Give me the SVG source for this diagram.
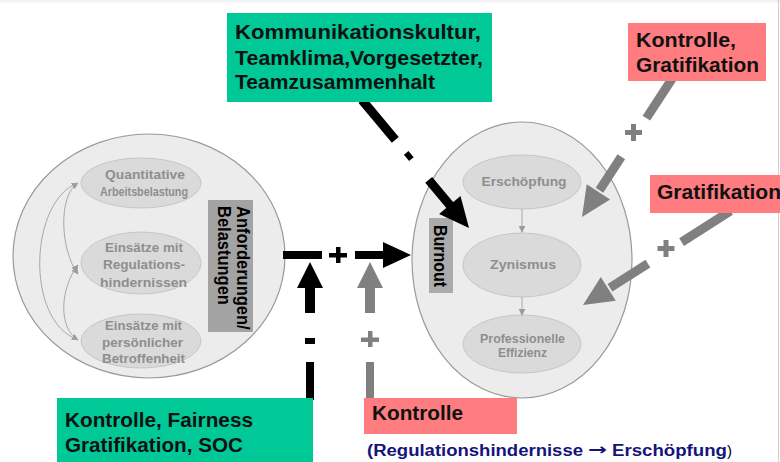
<svg xmlns="http://www.w3.org/2000/svg" width="780" height="462" viewBox="0 0 780 462">
<defs>
<style>
.big{fill:#ececec;stroke:#9a9a9a;stroke-width:1.2}
.in{fill:#dadada;stroke:#c6c6c6;stroke-width:1}
.it{font-family:"Liberation Sans",Arial,sans-serif;font-weight:bold;font-size:12px;fill:#8e8e8e;text-anchor:middle}
.lb{font-family:"Liberation Sans",Arial,sans-serif;font-weight:bold;font-size:19.5px;fill:#111}
.rt{font-family:"Liberation Sans",Arial,sans-serif;font-weight:bold;fill:#000}
.nv{font-family:"Liberation Sans",Arial,sans-serif;font-weight:bold;font-size:16px;fill:#14147a}
.arc{fill:none;stroke:#a8a8a8;stroke-width:1}
.blk{stroke:#000;stroke-width:9;fill:none}
.gry{stroke:#808080;stroke-width:9;fill:none}
.green{fill:#00c896}
.red{fill:#ff7c80}
</style>
<marker id="ah" viewBox="0 0 10 10" refX="9" refY="5" markerWidth="7" markerHeight="7" markerUnits="userSpaceOnUse" orient="auto-start-reverse">
<path d="M0,0 L10,5 L0,10 z" fill="#9a9a9a"/>
</marker>
</defs>
<rect x="0" y="0" width="780" height="462" fill="#fff"/>
<rect x="0" y="0" width="780" height="2.5" fill="#f1f3f3"/>
<line x1="778.5" y1="0" x2="778.5" y2="462" stroke="#d0d0d0" stroke-width="1"/>

<g id="node-demands">
<ellipse class="big" cx="149" cy="256" rx="136" ry="122"/>
<ellipse class="in" cx="141" cy="183" rx="60" ry="25"/>
<ellipse class="in" cx="141" cy="263" rx="60" ry="31"/>
<ellipse class="in" cx="141" cy="341" rx="60" ry="27"/>
<text class="it" x="145" y="179" textLength="80" lengthAdjust="spacingAndGlyphs">Quantitative</text>
<text class="it" x="144" y="195.5" textLength="88" lengthAdjust="spacingAndGlyphs">Arbeitsbelastung</text>
<text class="it" x="144" y="251.5" textLength="78" lengthAdjust="spacingAndGlyphs">Einsätze mit</text>
<text class="it" x="144" y="269" textLength="82" lengthAdjust="spacingAndGlyphs">Regulations-</text>
<text class="it" x="143.5" y="286.5" textLength="87" lengthAdjust="spacingAndGlyphs">hindernissen</text>
<text class="it" x="143.5" y="330" textLength="77" lengthAdjust="spacingAndGlyphs">Einsätze mit</text>
<text class="it" x="142.5" y="346.5" textLength="81" lengthAdjust="spacingAndGlyphs">persönlicher</text>
<text class="it" x="143.5" y="363" textLength="83" lengthAdjust="spacingAndGlyphs">Betroffenheit</text>
<path class="arc" d="M78,183 C58,195 60,250 78,274" marker-start="url(#ah)" marker-end="url(#ah)"/>
<path class="arc" d="M78,265 C60,288 58,328 78,340" marker-start="url(#ah)" marker-end="url(#ah)"/>
<path class="arc" d="M78,183 C30,200 24,320 78,340"/>
<rect x="208" y="200" width="45" height="132" fill="#a3a3a3"/>
<text class="rt" font-size="16.5" transform="translate(236.5,206) scale(1.12,1) rotate(90)">Anforderungen/</text>
<text class="rt" font-size="16.5" transform="translate(218,206) scale(1.12,1) rotate(90)">Belastungen</text>
</g>

<g id="node-burnout">
<ellipse class="big" cx="522" cy="260" rx="110" ry="138"/>
<ellipse class="in" cx="522" cy="182" rx="59" ry="27"/>
<ellipse class="in" cx="522" cy="265" rx="59" ry="32"/>
<ellipse class="in" cx="522" cy="344" rx="59" ry="29"/>
<text class="it" x="524" y="185.5" textLength="85" lengthAdjust="spacingAndGlyphs">Erschöpfung</text>
<text class="it" x="523" y="269" textLength="66" lengthAdjust="spacingAndGlyphs">Zynismus</text>
<text class="it" x="522.5" y="343" textLength="85" lengthAdjust="spacingAndGlyphs">Professionelle</text>
<text class="it" x="522.5" y="357" textLength="49" lengthAdjust="spacingAndGlyphs">Effizienz</text>
<line class="arc" x1="522" y1="209" x2="522" y2="232" marker-end="url(#ah)"/>
<line class="arc" x1="522" y1="297" x2="522" y2="315" marker-end="url(#ah)"/>
<rect x="429" y="218" width="24" height="75" fill="#ababab"/>
<text class="rt" font-size="16" transform="translate(434,225) scale(1.1,1) rotate(90)">Burnout</text>
</g>

<g id="connectors">
<!-- main horizontal -->
<rect x="283" y="251" width="39" height="8" fill="#000"/>
<rect x="329" y="253" width="18" height="4.5" fill="#000"/>
<rect x="336" y="247" width="4.5" height="16" fill="#000"/>
<rect x="355" y="251" width="30" height="8" fill="#000"/>
<polygon points="383,242 411,255 383,268" fill="#000"/>
<!-- black vertical from bottom -->
<polygon points="297,288 310,262 323,288" fill="#000"/>
<rect x="305" y="287" width="10" height="26" fill="#000"/>
<rect x="305" y="338" width="10" height="6" fill="#000"/>
<rect x="306" y="362" width="8" height="38" fill="#000"/>
<!-- gray vertical from bottom -->
<polygon points="357,288 370,262 383,288" fill="#808080"/>
<rect x="365" y="287" width="10" height="26" fill="#808080"/>
<rect x="361" y="337.5" width="18" height="4.5" fill="#808080"/>
<rect x="368" y="331" width="4.5" height="16" fill="#808080"/>
<rect x="366" y="362" width="8" height="38" fill="#808080"/>
<!-- top diagonal black -->
<line class="blk" x1="362" y1="100" x2="395.3" y2="139.9"/>
<line stroke="#000" stroke-width="6" x1="406.2" y1="152.9" x2="411.4" y2="159.1"/>
<line class="blk" x1="428.7" y1="179.8" x2="451.7" y2="207.4"/>
<polygon points="460.5,196.1 469,228.1 439.1,214.1" fill="#000"/>
<!-- gray arrow from Kontrolle, Gratifikation -->
<line class="gry" x1="646.4" y1="118.1" x2="672.1" y2="78.7"/>
<rect x="625" y="130" width="17" height="5" fill="#808080"/>
<rect x="631" y="124" width="5" height="17" fill="#808080"/>
<line class="gry" x1="621.3" y1="156.7" x2="599.5" y2="190.2"/>
<polygon points="610.1,199.5 582,217 586.7,184.3" fill="#808080"/>
<!-- gray arrow from Gratifikation -->
<line class="gry" x1="681.6" y1="242.1" x2="730.5" y2="210.9"/>
<rect x="657.5" y="246" width="17" height="5" fill="#808080"/>
<rect x="663.5" y="240" width="5" height="17" fill="#808080"/>
<line class="gry" x1="647.9" y1="263.6" x2="610" y2="287.8"/>
<polygon points="615.8,300.7 583,305 600.8,277.1" fill="#808080"/>
</g>

<g id="node-team">
<rect class="green" x="227" y="13" width="265" height="89"/>
<text class="lb" x="235" y="39" textLength="246" lengthAdjust="spacingAndGlyphs">Kommunikationskultur,</text>
<text class="lb" x="235" y="64.5" textLength="248" lengthAdjust="spacingAndGlyphs">Teamklima,Vorgesetzter,</text>
<text class="lb" x="235" y="89" textLength="200" lengthAdjust="spacingAndGlyphs">Teamzusammenhalt</text>
</g>

<g id="node-kontrolle-gratifikation">
<rect class="red" x="628" y="23" width="138" height="58"/>
<text class="lb" x="636" y="47" textLength="100" lengthAdjust="spacingAndGlyphs">Kontrolle,</text>
<text class="lb" x="636" y="72" textLength="123" lengthAdjust="spacingAndGlyphs">Gratifikation</text>
</g>

<g id="node-gratifikation">
<rect class="red" x="650" y="175" width="140" height="38"/>
<text class="lb" x="657" y="198.5" textLength="124" lengthAdjust="spacingAndGlyphs">Gratifikation</text>
</g>

<g id="node-kontrolle-fairness">
<rect class="green" x="57" y="398" width="256" height="70"/>
<text class="lb" x="65" y="427" textLength="188" lengthAdjust="spacingAndGlyphs">Kontrolle, Fairness</text>
<text class="lb" x="65" y="452" textLength="178" lengthAdjust="spacingAndGlyphs">Gratifikation, SOC</text>
</g>

<g id="node-kontrolle">
<rect class="red" x="364" y="398" width="153" height="36"/>
<text class="lb" x="372" y="420" textLength="91" lengthAdjust="spacingAndGlyphs">Kontrolle</text>
</g>

<g id="note">
<text class="nv" x="367" y="456" textLength="216" lengthAdjust="spacingAndGlyphs">(Regulationshindernisse</text>
<text x="588" y="455" font-family="'DejaVu Sans',sans-serif" font-weight="bold" font-size="16" fill="#14147a" textLength="19" lengthAdjust="spacingAndGlyphs">→</text>
<text class="nv" x="612" y="456" textLength="115" lengthAdjust="spacingAndGlyphs">Erschöpfung</text>
<text x="727" y="456" font-family="'Liberation Sans',Arial,sans-serif" font-size="15" fill="#000">)</text>
</g>
</svg>
